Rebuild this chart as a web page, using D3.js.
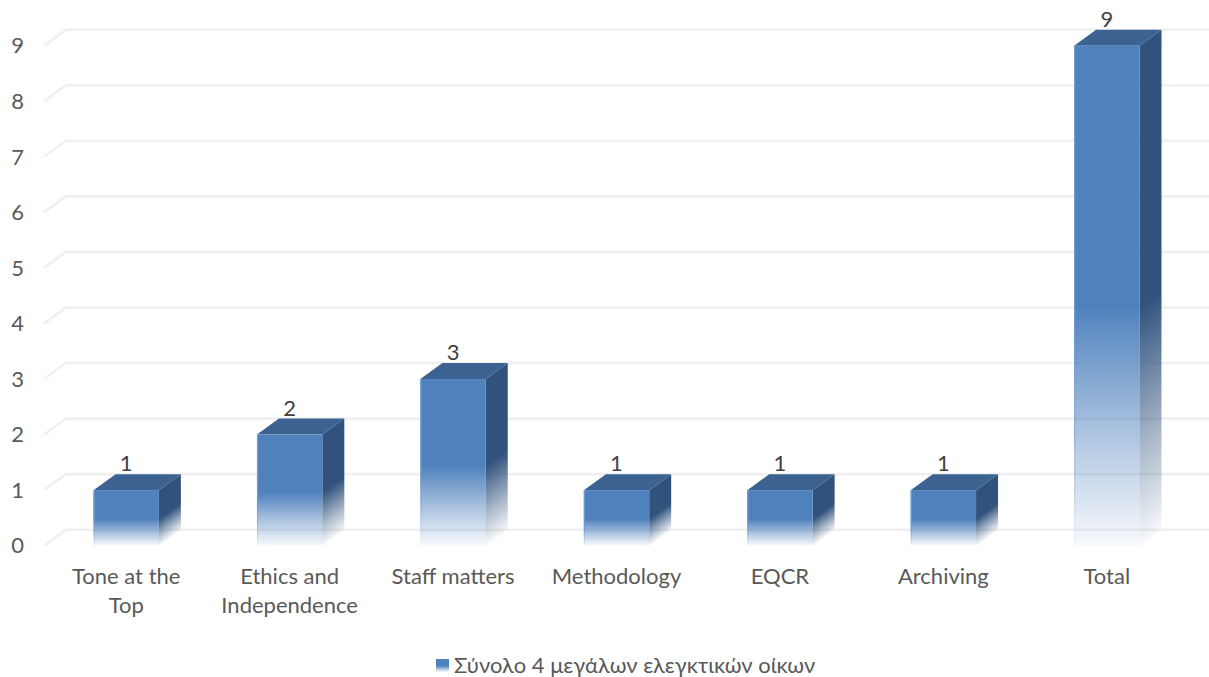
<!DOCTYPE html>
<html>
<head>
<meta charset="utf-8">
<script src="https://cdn.jsdelivr.net/npm/d3@7/dist/d3.min.js"></script>
<style>
  html, body { margin: 0; padding: 0; background: #fff; }
  svg { display: block; }
  text { font-family: Lato, "Noto Sans", sans-serif; fill: #595959; }
</style>
</head>
<body>
<svg id="chart" width="1209" height="677"></svg>
<script>
// data
const categories = ["Tone at the Top", "Ethics and Independence", "Staff matters", "Methodology", "EQCR", "Archiving", "Total"];
const values = [1, 2, 3, 1, 1, 1, 9];
const yTicks = [0, 1, 2, 3, 4, 5, 6, 7, 8, 9];
const seriesName = "Σύνολο 4 μεγάλων ελεγκτικών οίκων";

const W = 1209, H = 677;
const DX = 22, DY = -16; // depth of the fake 3d box
const FONT = 22;
const FRONT = "#4f81bd", TOP = "#3b6291", SIDE = "#30527d", EDGE = "#6f9bd3", GRID = "#f0f0f0";

const svg = d3.select("#chart").attr("viewBox", `0 0 ${W} ${H}`);
const defs = svg.append("defs");

const x = d3.scaleBand().domain(categories).range([44.5, 1188.5]).paddingInner(0.6).paddingOuter(0.3);
const y = d3.scaleLinear().domain([0, 9]).range([545.7, 45.7]);

// vertical fade, solid for the top half of the bar
function fade(sel, color) {
  sel.selectAll("stop")
    .data([[0, 1], [0.52, 1], [0.8, 0.42], [1, 0.04]])
    .join("stop")
    .attr("offset", (d) => d[0])
    .attr("stop-color", color)
    .attr("stop-opacity", (d) => d[1]);
}

const frontGrad = defs.append("linearGradient").attr("id", "frontFade")
  .attr("x1", 0).attr("y1", 0).attr("x2", 0).attr("y2", 1);
fade(frontGrad, FRONT);
const edgeGrad = defs.append("linearGradient").attr("id", "edgeFade")
  .attr("x1", 0).attr("y1", 0).attr("x2", 0).attr("y2", 1);
fade(edgeGrad, EDGE);

// side face gets a gradient per bar, so its fade runs along the sheared edge
const rows = categories.map((c, i) => ({ name: c, value: values[i], id: i }));
const len = Math.hypot(-DY, DX);
defs.selectAll("linearGradient.side").data(rows).join("linearGradient")
  .attr("class", "side")
  .attr("id", (d) => `sideFade${d.id}`)
  .attr("gradientUnits", "userSpaceOnUse")
  .each(function (d) {
    const h = y(0) - y(d.value);
    const L = h * DX / len; // distance between the two iso lines through the front edge ends
    const x0 = x(d.name) + x.bandwidth(), y0 = y(d.value);
    d3.select(this)
      .attr("x1", x0).attr("y1", y0)
      .attr("x2", x0 + (-DY / len) * L).attr("y2", y0 + (DX / len) * L);
    fade(d3.select(this), SIDE);
  });

// gridlines: floor stub plus back wall
svg.append("g").selectAll("path").data(yTicks).join("path")
  .attr("d", (t) => d3.line()([[x.range()[0] - 0.5, y(t)], [x.range()[0] - 0.5 + DX, y(t) + DY], [W, y(t) + DY]]))
  .attr("fill", "none")
  .attr("stroke", GRID)
  .attr("stroke-width", 2.6);

// y axis, labels only
const yAxis = svg.append("g").attr("transform", "translate(24,0)")
  .call(d3.axisLeft(y).tickValues(yTicks).tickFormat(d3.format("d")).tickSize(0).tickPadding(0));
yAxis.select(".domain").remove();
yAxis.selectAll("text").attr("font-size", FONT).attr("y", 1.5).attr("dy", "0.26em").style("font-family", null);

// x axis, wrapped labels
const xAxis = svg.append("g").attr("transform", "translate(0,573)")
  .call(d3.axisBottom(x).tickSize(0).tickPadding(0));
xAxis.select(".domain").remove();
xAxis.selectAll("text").attr("font-size", FONT).style("font-family", null).call(wrap, 145);

function wrap(sel, width) {
  sel.each(function () {
    const t = d3.select(this);
    const words = t.text().split(" ");
    t.text(null);
    let line = [];
    let n = 0;
    let span = t.append("tspan").attr("x", 0).attr("y", 0).attr("dy", "0.5em");
    words.forEach((w) => {
      line.push(w);
      span.text(line.join(" "));
      if (span.node().getComputedTextLength() > width && line.length > 1) {
        line.pop();
        span.text(line.join(" "));
        line = [w];
        n++;
        span = t.append("tspan").attr("x", 0).attr("y", n * 29).attr("dy", "0.5em").text(w);
      }
    });
  });
}

// bars
const bars = svg.append("g").selectAll("g").data(rows).join("g");

bars.append("path") // side
  .attr("d", (d) => {
    const r = x(d.name) + x.bandwidth();
    return d3.line()([[r, y(d.value)], [r + DX, y(d.value) + DY], [r + DX, y(0) + DY], [r, y(0)]]) + "Z";
  })
  .attr("fill", (d) => `url(#sideFade${d.id})`);

bars.append("path") // top
  .attr("d", (d) => {
    const l = x(d.name), r = l + x.bandwidth(), t = y(d.value);
    return d3.line()([[l, t], [l + DX, t + DY], [r + DX, t + DY], [r, t]]) + "Z";
  })
  .attr("fill", TOP);

bars.append("rect") // front
  .attr("x", (d) => x(d.name))
  .attr("y", (d) => y(d.value))
  .attr("width", x.bandwidth())
  .attr("height", (d) => y(0) - y(d.value))
  .attr("fill", "url(#frontFade)");

bars.append("rect") // light left edge on the front face
  .attr("x", (d) => x(d.name))
  .attr("y", (d) => y(d.value))
  .attr("width", 1.2)
  .attr("height", (d) => y(0) - y(d.value))
  .attr("fill", "url(#edgeFade)");

bars.append("text") // value label
  .attr("x", (d) => x(d.name) + x.bandwidth() / 2)
  .attr("y", (d) => y(d.value) + DY - 3)
  .attr("text-anchor", "middle")
  .attr("font-size", FONT)
  .style("fill", "#404040")
  .text((d) => d.value);

// legend
const legendGrad = defs.append("linearGradient").attr("id", "legendFade")
  .attr("x1", 0).attr("y1", 0).attr("x2", 0).attr("y2", 1);
fade(legendGrad, FRONT);
svg.append("rect").attr("x", 436).attr("y", 659).attr("width", 13).attr("height", 13).attr("fill", "url(#legendFade)");
svg.append("text").attr("x", 454).attr("y", 665).attr("dy", "0.36em").attr("font-size", FONT).text(seriesName);
</script>
</body>
</html>
